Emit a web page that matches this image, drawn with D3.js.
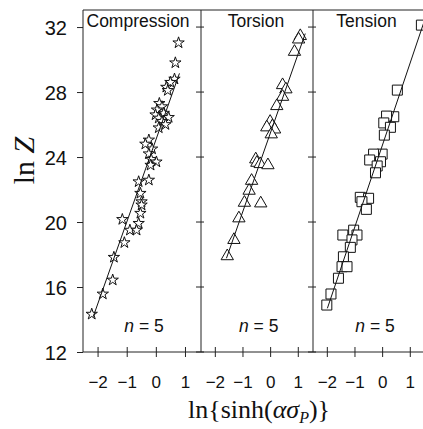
<!DOCTYPE html>
<html>
<head>
<meta charset="utf-8">
<script src="https://cdn.jsdelivr.net/npm/d3@7"></script>
<style>
  body { margin: 0; background: #fff; }
  svg { display: block; }
</style>
</head>
<body>
<div id="chart"></div>
<script>
// panel titles and x ticks
const panelNames = ["Compression", "Torsion", "Tension"];
const xTicks = [-2, -1, 0, 1];
const yTicks = [12, 16, 20, 24, 28, 32];

// Compression (stars)
const compX = [0.78, 0.67, 0.64, 0.5, 0.36, 0.41, 0.12, 0.21, 0.04, 0.27, -0.01, 0.1, 0.44, 0.21, 0.33, 0.1,
  -0.24, -0.36, -0.13, -0.24, -0.16, 0.02, -0.18, -0.59, -0.24, -0.53, -0.49, -0.49, -0.53, -0.59,
  -1.15, -0.89, -0.66, -1.08, -1.44, -1.48, -1.82, -2.2];
const compY = [31.03, 29.8, 28.8, 28.6, 28.3, 28.1, 27.3, 27.1, 26.9, 26.7, 26.6, 26.4, 26.44, 26.2, 26.0, 25.8,
  25.05, 24.8, 24.5, 24.2, 23.86, 23.7, 23.5, 22.48, 22.58, 21.77, 21.25, 21.05, 20.54, 19.92,
  20.16, 19.5, 19.5, 18.73, 17.83, 16.43, 15.57, 14.33];

// Torsion (triangles)
const torsX = [1.09, 1.03, 0.88, 0.45, 0.57, 0.45, 0.24, 0.0, 0.08, -0.12, 0.16, 0.04, -0.52, -0.48, -0.36, -0.08,
  -0.67, -0.76, -0.93, -0.34, -1.13, -1.31, -1.55];
const torsY = [31.45, 31.24, 30.48, 28.43, 28.17, 27.71, 27.14, 26.17, 25.9, 25.83, 25.7, 25.4, 23.86, 23.65, 23.57, 23.5,
  22.54, 21.93, 21.19, 21.15, 20.23, 18.9, 17.9];

// Tension (squares)
const tensX = [1.42, 0.55, 0.42, 0.16, 0.06, 0.3, 0.08, 0, -0.31, -0.45, -0.06, -0.18, -0.24, -0.79, -0.49, -0.73,
  -0.57, -1.42, -1.03, -0.91, -1.09, -1.15, -1.4, -1.45, -1.27, -1.58, -1.85, -2.0];
const tensY = [32.12, 28.12, 26.48, 26.52, 26.1, 25.83, 25.35, 24.18, 24.18, 23.82, 23.71, 23.45, 23.03, 21.52, 21.46, 21.25,
  20.78, 19.2, 19.5, 19.2, 18.9, 18.44, 17.86, 17.25, 17.25, 16.54, 15.57, 14.89];

// fitted lines (end points)
const fitX = [[-2.15, 0.81], [-1.58, 1.27], [-1.98, 1.55]];
const fitY = [[14.17, 29.15], [17.77, 31.6], [14.69, 32.5]];

const width = 423, height = 429;
const plotTop = 10, plotBottom = 352;
const edges = [83, 201, 313, 424];
const ink = "#222";
const sans = "'Liberation Sans', Arial, sans-serif";
const serif = "'Liberation Serif', 'Times New Roman', serif";

const svg = d3.select("#chart").append("svg")
  .attr("width", width).attr("height", height);

const y = d3.scaleLinear().domain([12, 33.05]).range([plotBottom, plotTop]);

const series = [
  { xs: compX, ys: compY, sym: d3.symbolStar, size: 40 },
  { xs: torsX, ys: torsY, sym: d3.symbolTriangle, size: 66 },
  { xs: tensX, ys: tensY, sym: d3.symbolSquare, size: 100 }
];

series.forEach((s, i) => {
  const x0 = edges[i], x1 = edges[i + 1];
  const w = i == 0 ? 118 : 112;
  const x = d3.scaleLinear().domain([-2.5, 1.55]).range([x0, x0 + w]);
  const g = svg.append("g");

  g.append("clipPath").attr("id", "clip" + i)
    .append("rect").attr("x", x0).attr("y", plotTop).attr("width", x1 - x0).attr("height", plotBottom - plotTop);

  const pts = s.xs.map((v, k) => [v, s.ys[k]]);
  const plot = g.append("g").attr("clip-path", "url(#clip" + i + ")");

  plot.selectAll("path.pt")
    .data(pts)
    .enter()
    .append("path")
    .attr("class", "pt")
    .attr("d", d3.symbol().type(s.sym).size(s.size))
    .attr("transform", d => "translate(" + x(d[0]) + "," + y(d[1]) + ")")
    .attr("fill", "#fff")
    .attr("stroke", "#111")
    .attr("stroke-width", 1);

  plot.append("line")
    .attr("x1", x(fitX[i][0])).attr("y1", y(fitY[i][0]))
    .attr("x2", x(fitX[i][1])).attr("y2", y(fitY[i][1]))
    .attr("stroke", "#111").attr("stroke-width", 1);

  // bottom axis
  const ax = g.append("g")
    .attr("transform", "translate(0," + plotBottom + ")")
    .call(d3.axisBottom(x).tickValues(xTicks).tickFormat(d3.format("d")).tickSize(5).tickSizeOuter(0));
  ax.select(".domain").remove();
  ax.selectAll(".tick line").attr("y1", -5).attr("y2", 5).attr("stroke", ink);
  ax.selectAll(".tick text")
    .attr("y", 35.5).attr("dy", 0)
    .attr("font-family", sans).attr("font-size", 17).attr("fill", "#111");

  // title & n label
  if (i == 0) {
    g.append("text").text(panelNames[i]).attr("x", x0 + 3.5).attr("y", 26.5)
      .attr("font-family", sans).attr("font-size", 17.5).attr("fill", "#111");
  } else {
    g.append("text").text(panelNames[i]).attr("x", i == 1 ? 256 : 366.5).attr("y", 26.7)
      .attr("text-anchor", "middle")
      .attr("font-family", sans).attr("font-size", 17.5).attr("fill", "#111");
  }
  const nt = g.append("text").attr("x", [144, 258.7, 375][i]).attr("y", 331.5)
    .attr("text-anchor", "middle").attr("font-family", sans).attr("font-size", 17.5).attr("fill", "#111");
  nt.append("tspan").attr("font-style", "italic").text("n");
  nt.append("tspan").text(" = 5");

  // y ticks at panel edges (crossing)
  if (i > 0) {
    g.selectAll("line.yt").data(yTicks).enter().append("line")
      .attr("class", "yt")
      .attr("x1", x0 - 5).attr("x2", x0 + 3)
      .attr("y1", d => y(d)).attr("y2", d => y(d))
      .attr("stroke", ink);
  }
});

// frame
svg.append("line").attr("x1", edges[0]).attr("x2", width).attr("y1", plotTop).attr("y2", plotTop).attr("stroke", ink);
svg.append("line").attr("x1", edges[0]).attr("x2", width).attr("y1", plotBottom).attr("y2", plotBottom).attr("stroke", ink);
edges.slice(1, 3).forEach(e => {
  svg.append("line").attr("x1", e).attr("x2", e).attr("y1", plotTop).attr("y2", plotBottom).attr("stroke", ink);
});

// left y axis
const yAx = svg.append("g")
  .attr("transform", "translate(" + edges[0] + ",0)")
  .call(d3.axisLeft(y).tickValues(yTicks).tickSize(6).tickSizeOuter(0).tickPadding(10));
yAx.select(".domain").attr("stroke", ink).attr("d", "M0," + plotTop + "V" + plotBottom);
yAx.selectAll(".tick line").attr("stroke", ink);
yAx.selectAll(".tick text")
  .attr("font-family", sans).attr("font-size", 20).attr("fill", "#111").attr("dy", "0.36em");

// axis titles
const yl = svg.append("text")
  .attr("transform", "translate(34,160.5) rotate(-90)")
  .attr("text-anchor", "middle")
  .attr("font-family", serif).attr("font-size", 30).attr("fill", "#111");
yl.append("tspan").text("ln ");
yl.append("tspan").attr("font-style", "italic").text("Z");

const xl = svg.append("text")
  .attr("x", 259).attr("y", 418)
  .attr("text-anchor", "middle")
  .attr("font-family", serif).attr("font-size", 26).attr("fill", "#111");
xl.append("tspan").text("ln{sinh(");
xl.append("tspan").attr("font-style", "italic").text("ασ");
xl.append("tspan").attr("font-style", "italic").attr("font-size", 16).attr("dy", 5).text("P");
xl.append("tspan").attr("dy", -5).text(")}");
</script>
</body>
</html>
